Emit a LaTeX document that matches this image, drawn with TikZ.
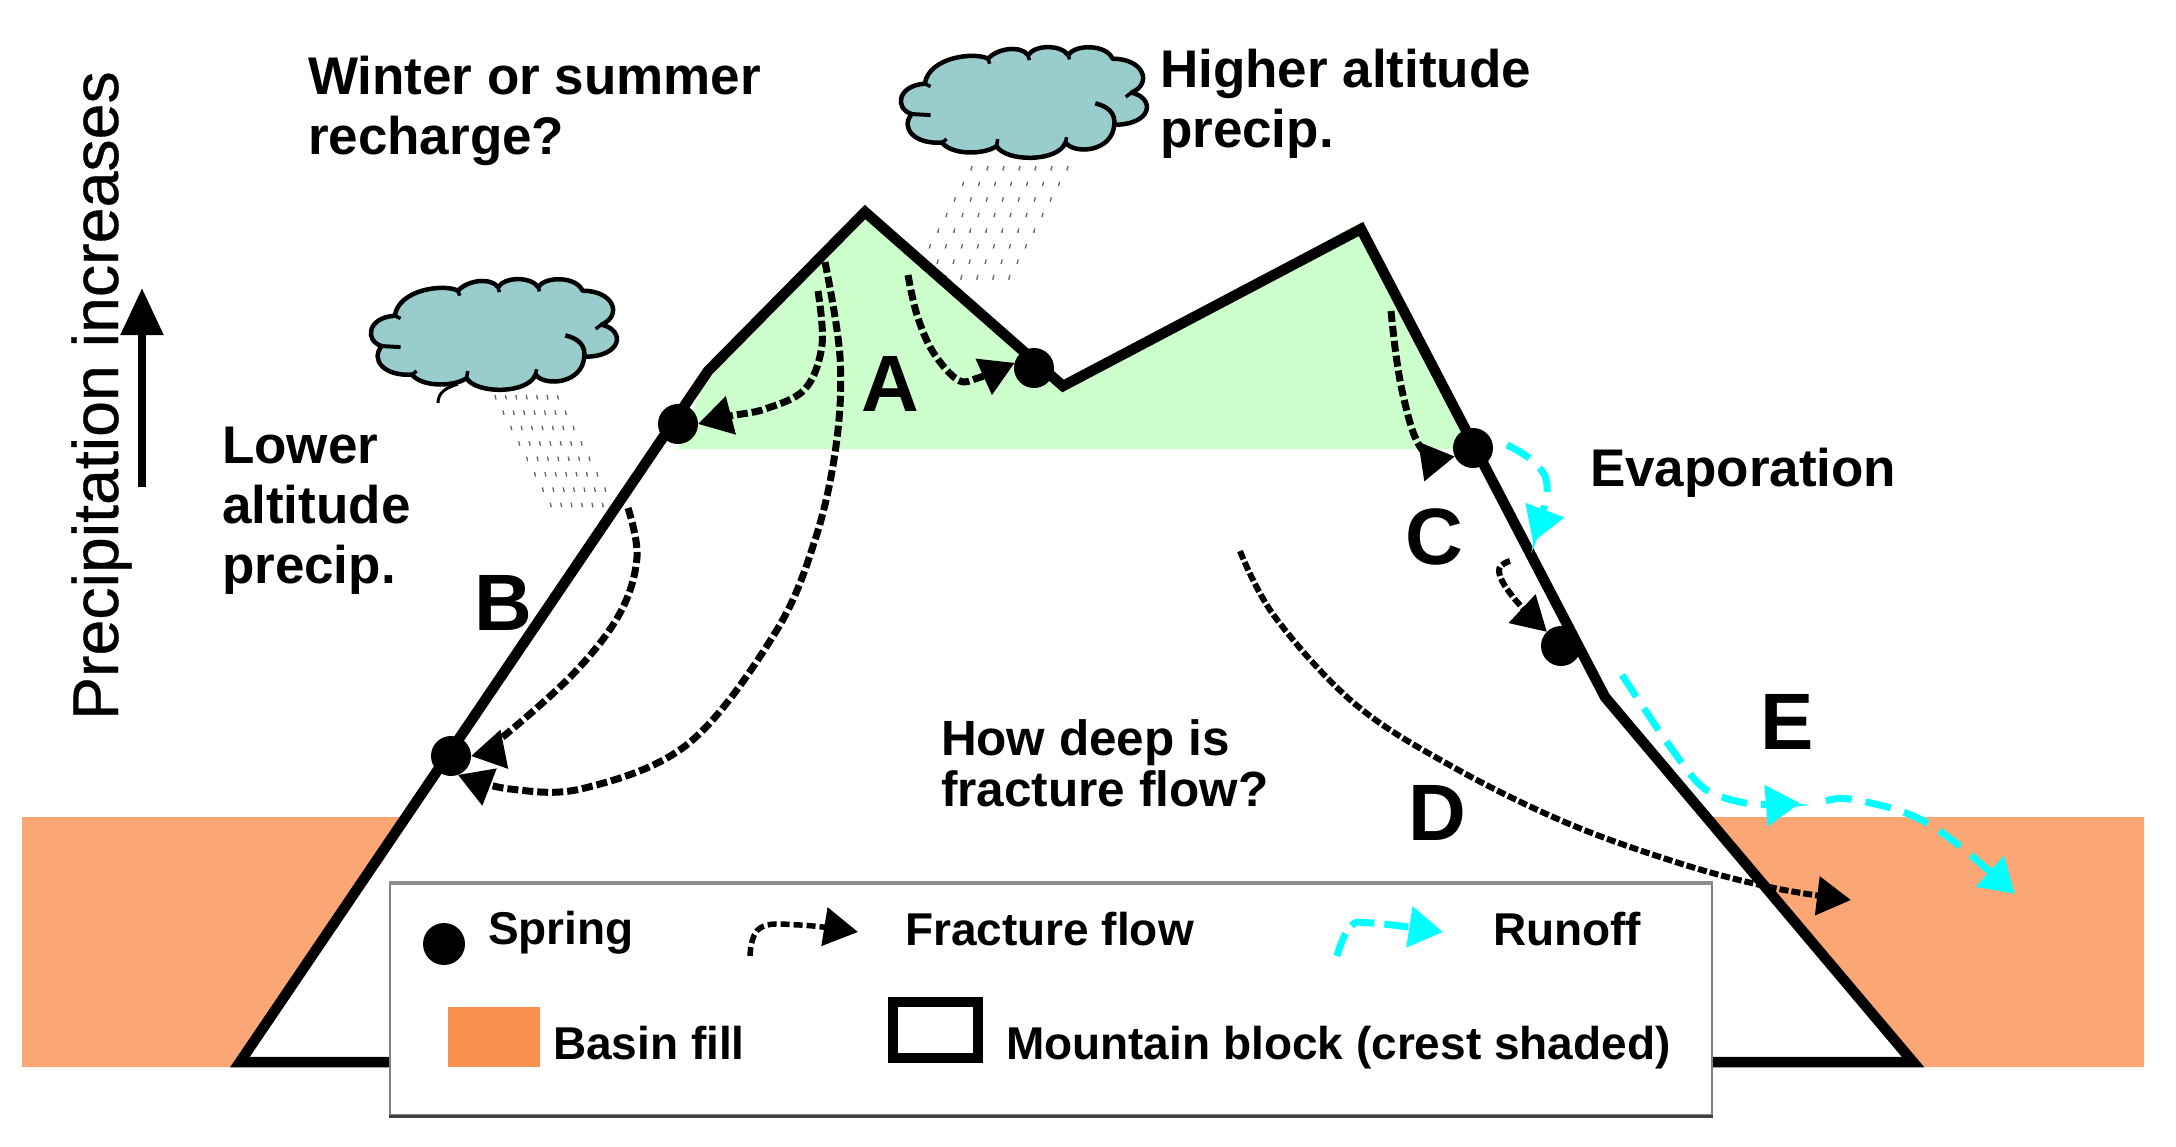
\documentclass[tikz,border=0pt]{standalone}
\usepackage{fontspec}
\setmainfont{Liberation Sans}
\newfontfamily\axisfont[FakeBold=0.5]{Liberation Sans}
\usetikzlibrary{arrows.meta}
\definecolor{basin}{HTML}{FAA675}
\definecolor{swatch}{HTML}{FB914F}
\definecolor{crest}{HTML}{CCFFCC}
\definecolor{cloudfill}{HTML}{99CCCC}
\definecolor{runoffc}{HTML}{00FFFF}
\tikzset{
  x=1pt,y=-1pt,
  lbl/.style={inner sep=0pt,outer sep=0pt,anchor=base west,font=\fontsize{53}{59}\selectfont\bfseries},
  mlbl/.style={inner sep=0pt,outer sep=0pt,anchor=north west,align=left,font=\fontsize{53}{60}\selectfont\bfseries},
  big/.style={inner sep=0pt,outer sep=0pt,anchor=base west,font=\fontsize{80}{80}\selectfont\bfseries},
  leg/.style={inner sep=0pt,outer sep=0pt,anchor=base west,font=\fontsize{46}{50}\selectfont\bfseries},
  springdot/.style={circle,fill=black,inner sep=0pt,outer sep=0pt,minimum size=40pt},
  mount/.style={draw=black,line width=10.5pt,line join=miter},
  flow/.style={draw=black,line width=7pt,dash pattern=on 11pt off 4pt,-{Triangle[length=34pt,width=38pt]}},
  thinflow/.style={flow,line width=6pt,dash pattern=on 9pt off 3pt},
  runoffline/.style={draw=runoffc,line width=7pt,dash pattern=on 26pt off 14pt,-{Triangle[length=34pt,width=40pt,fill=runoffc]}},
  drop/.style={draw=black!60,line width=1.3pt},
  cloudshape/.pic={
    \draw[fill=cloudfill,line width=4.5pt,line join=round]
      (38,100) .. controls (45,25) and (125,10) .. (148,30)
      .. controls (165,0) and (205,-8) .. (218,20)
      .. controls (230,-10) and (275,-10) .. (288,20)
      .. controls (300,-12) and (355,-10) .. (365,30)
      .. controls (420,30) and (435,100) .. (398,125)
      .. controls (440,140) and (435,215) .. (368,215)
      .. controls (365,290) and (300,300) .. (283,265)
      .. controls (270,320) and (180,320) .. (163,275)
      .. controls (140,300) and (85,300) .. (68,265)
      .. controls (20,270) and (-5,225) .. (15,185)
      .. controls (-15,170) and (-10,105) .. (38,100) -- cycle;
    \draw[line width=4.5pt] (335,155) .. controls (360,165) and (370,185) .. (368,215);
    \draw[line width=4pt] (15,185) -- (48,188);
    \draw[line width=3.5pt] (398,125) -- (388,137);
    \draw[line width=3.5pt] (148,30) -- (151,44);
    \draw[line width=3.5pt] (218,20) -- (220,34);
    \draw[line width=3.5pt] (288,20) -- (290,32);
    \draw[line width=3.5pt] (163,275) -- (165,255);
    \draw[line width=3.5pt] (283,265) -- (285,250);
    \draw[line width=3.5pt] (68,265) -- (76,255);
    \draw[line width=3.5pt] (38,100) -- (48,108);
  }
}
\begin{document}
\begin{tikzpicture}
\useasboundingbox (0,0) rectangle (2176,1146);
\fill[white] (0,0) rectangle (2176,1146);
% rain
\foreach \r in {0,...,7}{\foreach \c in {0,...,6}{
  \draw[drop] ({972-8.3*\r+16*\c},{166+15.6*\r}) -- ++(-1.2,4.5);
  \draw[drop] ({495+7.9*\r+10.4*\c},{395+15.4*\r}) -- ++(1,4.5);
}}
% basin fill
\fill[basin] (22,817) -- (402,817) -- (232,1067) -- (22,1067) -- cycle;
\fill[basin] (1708,817) -- (2144,817) -- (2144,1067) -- (1922,1067) -- cycle;
% crest
\fill[crest] (678,449) -- (708,371) -- (865,205) -- (1063,386) -- (1361,222) -- (1474,449) -- cycle;
% mountain block
\draw[mount] (240,1062) -- (708,371) -- (865,212) -- (1063,386) -- (1361,229) -- (1605,697) -- (1913,1062) -- cycle;
% springs
\node[springdot] (s1) at (678,424) {};
\node[springdot] (s2) at (451,756) {};
\node[springdot] (s3) at (1034,368) {};
\node[springdot] (s4) at (1473,448) {};
\node[springdot] (s5) at (1561,646) {};
% flows
\draw[flow] plot[smooth,tension=0.6] coordinates {(818,291) (822,345) (805,389) (765,409) (730,416) (s1.east)};
\draw[flow] plot[smooth,tension=0.6] coordinates {(825,262) (840,357) (836,446) (815,540) (775,633) (689,743) (585,788) (510,789) (s2.-70)};
\draw[flow] plot[smooth,tension=0.6] coordinates {(628,508) (637,557) (620,613) (574,673) (499,740) (s2.east)};
\draw[flow] plot[smooth,tension=0.6] coordinates {(908,275) (917,315) (933,352) (958,380) (978,378) (s3.165)};
\draw[flow] plot[smooth,tension=0.6] coordinates {(1391,311) (1396,355) (1403,395) (1415,437) (1430,456) (s4.205)};
\draw[thinflow] plot[smooth,tension=0.7] coordinates {(1510,561) (1499,571) (1513,597) (s5.135)};
\draw[thinflow] plot[smooth,tension=0.6] coordinates {(1240,551) (1275,617) (1355,704) (1453,767) (1567,823) (1682,864) (1774,888) (1851,900)};
% runoff
\draw[runoffline] plot[smooth,tension=0.7] coordinates {(1507,445) (1536,464) (1547,491) (1533,542)};
\draw[runoffline] plot[smooth,tension=0.5] coordinates {(1622,675) (1671,748) (1705,789) (1751,804) (1800,803)};
\draw[runoffline] plot[smooth,tension=0.6] coordinates {(1826,801) (1849,799) (1906,813) (1952,840) (2015,894)};
% clouds
\begin{scope}[shift={(903,48)},x=0.574pt,y=-0.357pt]
  \pic {cloudshape};
\end{scope}
\begin{scope}[shift={(373,280)},x=0.574pt,y=-0.357pt]
  \pic {cloudshape};
\end{scope}
\draw[line width=3pt] (458,384) .. controls (445,388) and (438,393) .. (438,403);
% texts
\node[mlbl] (t1) at (308,56) {Winter or summer\\recharge?};
\node[mlbl] (t2) at (1160,49) {Higher altitude\\precip.};
\node[mlbl] (t3) at (222,427) {Lower\\altitude\\precip.};
\node[lbl] (t4) at (1590,486) {Evaporation};
\node[mlbl,font=\fontsize{49.5}{51}\selectfont\bfseries] (t5) at (941,720) {How deep is\\fracture flow?};
\node[big] (la) at (861,411) {A};
\node[big] (lb) at (474,630) {B};
\node[big] (lc) at (1405,564) {C};
\node[big] (ld) at (1408,840) {D};
\node[big] (le) at (1760,749) {E};
% precipitation axis
\node[inner sep=0pt,outer sep=0pt,anchor=base west,rotate=90,font=\fontsize{64.5}{65}\selectfont\axisfont] (prec) at (118,720) {Precipitation increases};
\coordinate (pa) at (142,487);
\coordinate (pb) at (142,288);
\draw[line width=8.5pt,-{Triangle[length=47pt,width=41pt]}] (pa) -- (pb);
% legend
\draw[draw=black!50,line width=2pt,fill=white] (390,884) rectangle (1712,1115);
\draw[draw=black!45,line width=4pt] (389,883) -- (1713,883);
\draw[draw=black!75,line width=3pt] (389,1116) -- (1713,1116);
\node[springdot,minimum size=42pt] (ks) at (444,944) {};
\node[leg] (kt1) at (488,944) {Spring};
\coordinate (kf1) at (750,956);
\coordinate (kf2) at (858,932);
\draw[flow,line width=5.5pt,dash pattern=on 9pt off 4pt] plot[smooth,tension=0.7] coordinates {(kf1) (760,928) (800,925) (kf2)};
\node[leg] (kt2) at (905,945) {Fracture flow};
\coordinate (kr1) at (1337,956);
\coordinate (kr2) at (1443,932);
\draw[runoffline,dash pattern=on 24pt off 10pt] plot[smooth,tension=0.7] coordinates {(kr1) (1350,927) (1372,923) (kr2)};
\node[leg] (kt3) at (1493,945) {Runoff};
\node[fill=swatch,inner sep=0pt,outer sep=0pt,minimum width=92pt,minimum height=60pt] (kb) at (494,1037) {};
\node[leg] (kt4) at (553,1059) {Basin fill};
\node[draw=black,line width=10pt,inner sep=0pt,outer sep=0pt,minimum width=85pt,minimum height=56pt] (km) at (935,1030) {};
\node[leg] (kt5) at (1006,1059) {Mountain block (crest shaded)};
\end{tikzpicture}
\end{document}
